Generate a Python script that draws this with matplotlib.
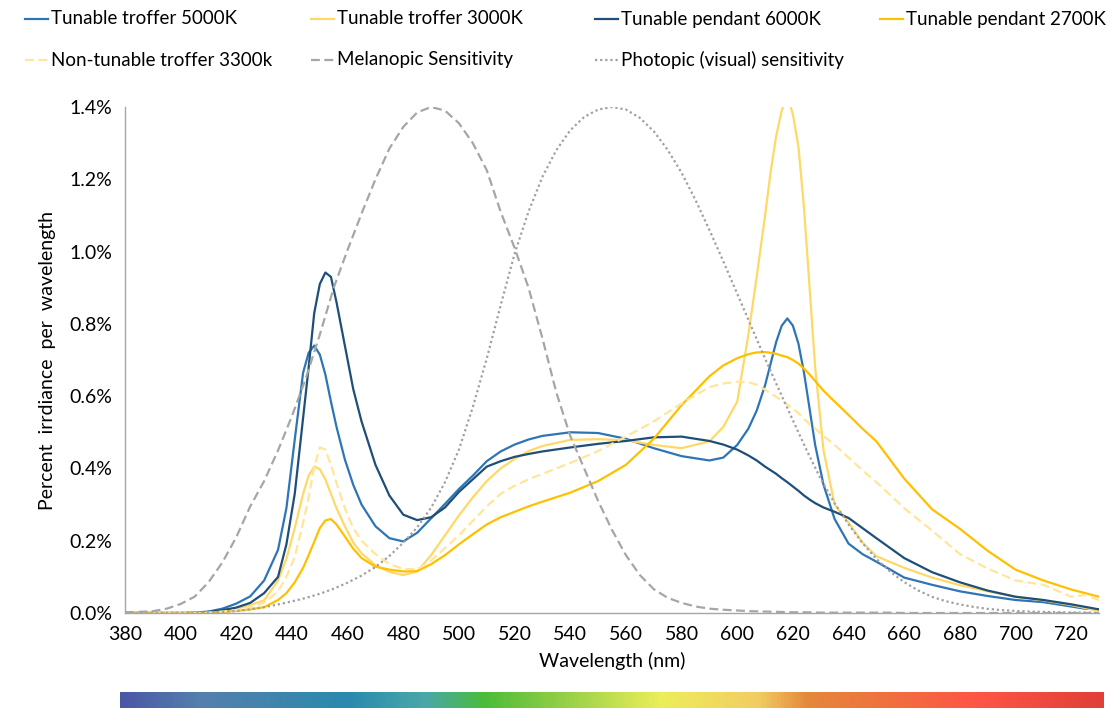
import matplotlib
matplotlib.use("Agg")
import matplotlib.pyplot as plt
import numpy as np
from matplotlib.colors import LinearSegmentedColormap
from matplotlib.lines import Line2D

plt.rcParams['font.family'] = ['Lato', 'DejaVu Sans']

# wavelength grid for the lamp spectra (nm), denser round the peaks
wl = [380, 390, 400, 405, 410, 415, 420, 425, 430, 435,
      438, 441, 444, 446, 448, 450, 452, 454, 456, 459,
      462, 465, 470, 475, 480, 485, 490, 495, 500, 505,
      510, 515, 520, 525, 530, 540, 550, 560, 570, 580,
      590, 595, 600, 604, 607, 610, 612, 614, 616, 618,
      620, 622, 624, 626, 628, 631, 635, 640, 645, 650,
      660, 670, 680, 690, 700, 710, 720, 725, 730]

troffer_5000 = [0, 0, 0, 0.001, 0.004, 0.012, 0.026, 0.046, 0.09, 0.175,
                0.29, 0.48, 0.665, 0.72, 0.74, 0.715, 0.66, 0.585, 0.515, 0.425,
                0.355, 0.3, 0.24, 0.207, 0.198, 0.222, 0.262, 0.302, 0.343, 0.38,
                0.42, 0.447, 0.466, 0.48, 0.49, 0.5, 0.498, 0.482, 0.456, 0.434,
                0.422, 0.43, 0.465, 0.51, 0.56, 0.63, 0.69, 0.75, 0.795, 0.815,
                0.795, 0.745, 0.665, 0.565, 0.465, 0.355, 0.26, 0.192, 0.163, 0.142,
                0.098, 0.078, 0.06, 0.047, 0.036, 0.03, 0.018, 0.012, 0.01]

troffer_3000 = [0, 0, 0, 0, 0.002, 0.006, 0.012, 0.022, 0.035, 0.09,
                0.15, 0.235, 0.33, 0.38, 0.405, 0.398, 0.37, 0.33, 0.29, 0.24,
                0.195, 0.165, 0.132, 0.114, 0.105, 0.115, 0.16, 0.215, 0.27, 0.32,
                0.365, 0.4, 0.426, 0.448, 0.462, 0.479, 0.481, 0.478, 0.465, 0.456,
                0.475, 0.515, 0.585, 0.77, 0.93, 1.1, 1.22, 1.32, 1.39, 1.43,
                1.38, 1.29, 1.12, 0.9, 0.68, 0.45, 0.3, 0.25, 0.195, 0.157,
                0.125, 0.098, 0.077, 0.06, 0.045, 0.035, 0.022, 0.014, 0.006]

pendant_6000 = [0, 0, 0, 0, 0.003, 0.008, 0.015, 0.028, 0.055, 0.1,
                0.19, 0.33, 0.54, 0.68, 0.83, 0.91, 0.942, 0.93, 0.86, 0.74,
                0.62, 0.53, 0.41, 0.325, 0.272, 0.257, 0.265, 0.292, 0.335, 0.37,
                0.405, 0.42, 0.432, 0.44, 0.447, 0.458, 0.468, 0.476, 0.486, 0.488,
                0.476, 0.466, 0.452, 0.436, 0.422, 0.405, 0.395, 0.385, 0.373, 0.362,
                0.35, 0.338, 0.325, 0.314, 0.304, 0.292, 0.28, 0.263, 0.235, 0.207,
                0.152, 0.113, 0.085, 0.062, 0.045, 0.036, 0.024, 0.017, 0.01]

pendant_2700 = [0, 0, 0, 0, 0.001, 0.003, 0.006, 0.01, 0.016, 0.036,
                0.055, 0.085, 0.125, 0.16, 0.197, 0.235, 0.256, 0.26, 0.245, 0.212,
                0.178, 0.152, 0.128, 0.12, 0.115, 0.116, 0.135, 0.16, 0.19, 0.218,
                0.245, 0.265, 0.28, 0.295, 0.308, 0.333, 0.365, 0.41, 0.482, 0.575,
                0.655, 0.685, 0.705, 0.716, 0.721, 0.722, 0.72, 0.717, 0.712, 0.708,
                0.7, 0.69, 0.676, 0.66, 0.642, 0.615, 0.585, 0.548, 0.51, 0.475,
                0.372, 0.287, 0.233, 0.172, 0.12, 0.09, 0.065, 0.055, 0.045]

nontunable_3300 = [0, 0, 0, 0, 0.001, 0.004, 0.008, 0.015, 0.028, 0.06,
                   0.1, 0.155, 0.25, 0.32, 0.405, 0.458, 0.452, 0.41, 0.36, 0.29,
                   0.235, 0.2, 0.163, 0.135, 0.122, 0.121, 0.145, 0.18, 0.215, 0.255,
                   0.295, 0.33, 0.352, 0.37, 0.385, 0.415, 0.448, 0.488, 0.53, 0.58,
                   0.625, 0.635, 0.64, 0.638, 0.632, 0.618, 0.608, 0.598, 0.588, 0.577,
                   0.565, 0.553, 0.537, 0.523, 0.51, 0.49, 0.465, 0.43, 0.395, 0.362,
                   0.29, 0.228, 0.163, 0.123, 0.09, 0.078, 0.045, 0.05, 0.036]

# sensitivity curves on a 5 nm grid, scaled to peak at 1.4 %
wl_sens = list(range(380, 731, 5))

melanopic = [0.002, 0.003, 0.005, 0.012, 0.025, 0.045, 0.085, 0.14, 0.21, 0.295,
             0.365, 0.45, 0.545, 0.65, 0.77, 0.9, 1.005, 1.105, 1.2, 1.285,
             1.345, 1.385, 1.4, 1.39, 1.355, 1.3, 1.225, 1.11, 1.01, 0.9,
             0.76, 0.61, 0.49, 0.4, 0.31, 0.23, 0.16, 0.105, 0.066, 0.042,
             0.028, 0.018, 0.012, 0.009, 0.007, 0.005, 0.004, 0.003, 0.002, 0.002,
             0.001, 0.001, 0.001, 0.001, 0.001, 0.001, 0, 0, 0, 0,
             0, 0, 0, 0, 0, 0, 0, 0, 0, 0, 0]

photopic = [0.0001, 0.0001, 0.0002, 0.0003, 0.0006, 0.0009, 0.0017, 0.0031, 0.0056, 0.0102,
            0.0162, 0.0236, 0.0322, 0.0417, 0.0532, 0.0672, 0.084, 0.1035, 0.1274, 0.1576,
            0.1946, 0.237, 0.2912, 0.362, 0.4522, 0.5702, 0.7042, 0.8515, 0.994, 1.1105,
            1.2068, 1.2808, 1.3356, 1.3724, 1.3929, 1.4, 1.393, 1.37, 1.3328, 1.2816,
            1.218, 1.1428, 1.0598, 0.9729, 0.8834, 0.7935, 0.7042, 0.6177, 0.5334, 0.4494,
            0.371, 0.3038, 0.245, 0.1935, 0.1498, 0.1142, 0.0854, 0.0624, 0.0448, 0.0325,
            0.0238, 0.0167, 0.0115, 0.008, 0.0057, 0.0041, 0.0029, 0.0021, 0.0015, 0.001, 0.0007]

gray = '#a6a6a6'
series = [
    ("Tunable troffer 5000K", wl, troffer_5000, '#2e75b6', '-'),
    ("Tunable troffer 3000K", wl, troffer_3000, '#ffd966', '-'),
    ("Tunable pendant 6000K", wl, pendant_6000, '#1f4e79', '-'),
    ("Tunable pendant 2700K", wl, pendant_2700, '#ffc000', '-'),
    ("Non-tunable troffer 3300k", wl, nontunable_3300, '#ffe699', (0, (4, 2))),
    ("Melanopic Sensitivity", wl_sens, melanopic, gray, (0, (4, 2))),
    ("Photopic (visual) sensitivity", wl_sens, photopic, '#a0a0a0', (0, (1, 1.3))),
]

fig = plt.figure(figsize=(11.12, 7.08), dpi=100)
ax = fig.add_axes([125 / 1112, 1 - 613 / 708, 974 / 1112, 506 / 708])

for name, x, y, c, ls in series:
    ax.plot(x, y, color=c, linestyle=ls, lw=1.6, solid_joinstyle='round')

ax.set_xlim(380, 730)
ax.set_ylim(0, 1.4)
ax.set_xticks(range(380, 721, 20))
ax.set_yticks(np.arange(0, 1.41, 0.2))
ax.set_yticklabels([f"{v:.1f}%" for v in np.arange(0, 1.41, 0.2)])
ax.tick_params(length=0, labelsize=14, pad=9)
for s in ['top', 'right']:
    ax.spines[s].set_visible(False)
for s in ['left', 'bottom']:
    ax.spines[s].set_color('#a6a6a6')
    ax.spines[s].set_linewidth(1.0)
ax.set_xlabel("Wavelength (nm)", fontsize=14, labelpad=7)
ax.set_ylabel("Percent  irrdiance  per  wavelength", fontsize=14, labelpad=10)

# legend, two rows laid out like the original
cols = [25, 311, 595, 880]
rows = [19, 60]
for i, (name, x, y, c, ls) in enumerate(series):
    r, k = (0, i) if i < 4 else (1, i - 4)
    x0 = cols[k] / 1112
    yy = 1 - rows[r] / 708
    fig.add_artist(Line2D([x0, x0 + 23 / 1112], [yy, yy], transform=fig.transFigure,
                          color=c, linestyle=ls, lw=1.6))
    fig.text(x0 + 26 / 1112, yy, name, fontsize=13.5, va='center', ha='left')

# spectrum colour bar under the axis
spec = LinearSegmentedColormap.from_list('spec', [
    (0.0, '#4b58a6'), (0.08, '#557fad'), (0.23, '#2a8aae'), (0.31, '#4aa8a8'),
    (0.37, '#4cbc38'), (0.44, '#8ccc45'), (0.55, '#ecee5a'), (0.65, '#f2cc62'),
    (0.70, '#e4883a'), (0.875, '#fe5545'), (1.0, '#e04038')])
cax = fig.add_axes([120 / 1112, 0, 984 / 1112, 16 / 708])
cax.imshow(np.linspace(0, 1, 600)[None, :], aspect='auto', cmap=spec)
cax.axis('off')

fig.savefig("out.png", dpi=100)
